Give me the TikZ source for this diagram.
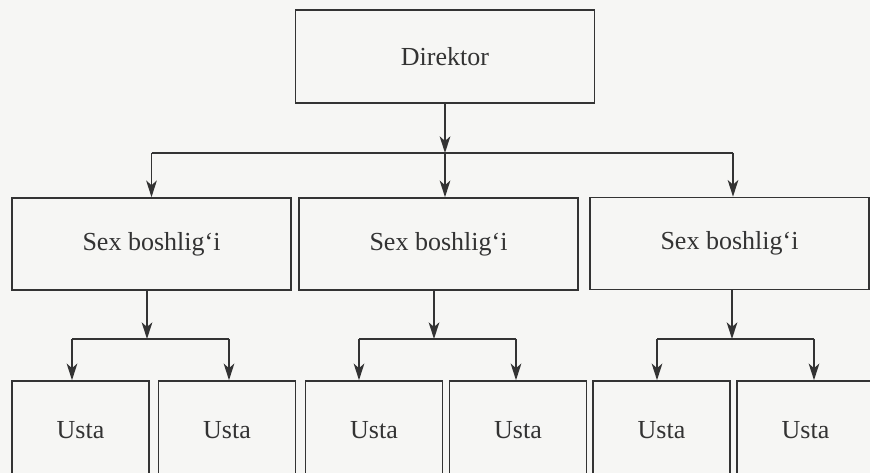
\documentclass[tikz,border=0pt]{standalone}
\usepackage{fontspec}
\setmainfont{Liberation Serif}
\usetikzlibrary{arrows.meta}
\definecolor{ink}{HTML}{333333}
\definecolor{paper}{HTML}{F6F6F4}
\tikzset{>={Stealth[length=12.5pt,width=8pt,inset=3.5pt]}}
\tikzset{
  box/.style={draw=ink, line width=1.2pt, text=ink, inner sep=0pt,
    font=\fontsize{19.5}{23}\selectfont},
  topbox/.style={box, minimum width=224pt, minimum height=70pt},
  sexbox/.style={box, minimum width=209.5pt, minimum height=69pt},
  ustabox/.style={box, minimum width=103pt, minimum height=73.5pt}
}

\begin{document}
\begin{tikzpicture}[x=0.75pt, y=-0.75pt, line width=1.2pt, draw=ink]
  \fill[paper] (0,0) rectangle (870,473);
  \useasboundingbox (0,0) rectangle (870,473);
  \clip (0,0) rectangle (870,473);
  % boxes
  \node[topbox] (dir) at (445,56.5) {Direktor};
  \node[sexbox] (s1) at (151.5,244) {Sex boshlig‘i};
  \node[sexbox] (s2) at (438.5,244) {Sex boshlig‘i};
  \node[sexbox] (s3) at (729.5,243.5) {Sex boshlig‘i};
  \node[ustabox] (u1) at (80.5,430) {Usta};
  \node[ustabox] (u2) at (227,430) {Usta};
  \node[ustabox] (u3) at (374,430) {Usta};
  \node[ustabox] (u4) at (518,430) {Usta};
  \node[ustabox] (u5) at (661.5,430) {Usta};
  \node[ustabox] (u6) at (805.5,430) {Usta};
  % director to sections
  \coordinate (top) at (445,153);
  \draw[->] (dir.south) -- (top);
  \draw (s1.north |- top) -- (733,153);
  \begin{scope}[->]
    \draw (s1.north |- top) -- (s1.north);
    \draw (top) -- (top |- s2.north);
    \draw (733,153) -- (733,153 |- s3.north);
  \end{scope}
  % sections to masters
  \foreach \i/\x/\a/\b in {1/147/u1/u2, 2/434/u3/u4, 3/732/u5/u6}{
    \coordinate (d\i) at (\x,339);
    \coordinate (l\i) at (\x-75,339);
    \coordinate (r\i) at (\x+82,339);
    \draw[->] (s\i.south -| d\i) -- (d\i);
    \draw (l\i) -- (r\i);
    \draw[->] (l\i) -- (l\i |- \a.north);
    \draw[->] (r\i) -- (r\i |- \b.north);
  }
\end{tikzpicture}
\end{document}
